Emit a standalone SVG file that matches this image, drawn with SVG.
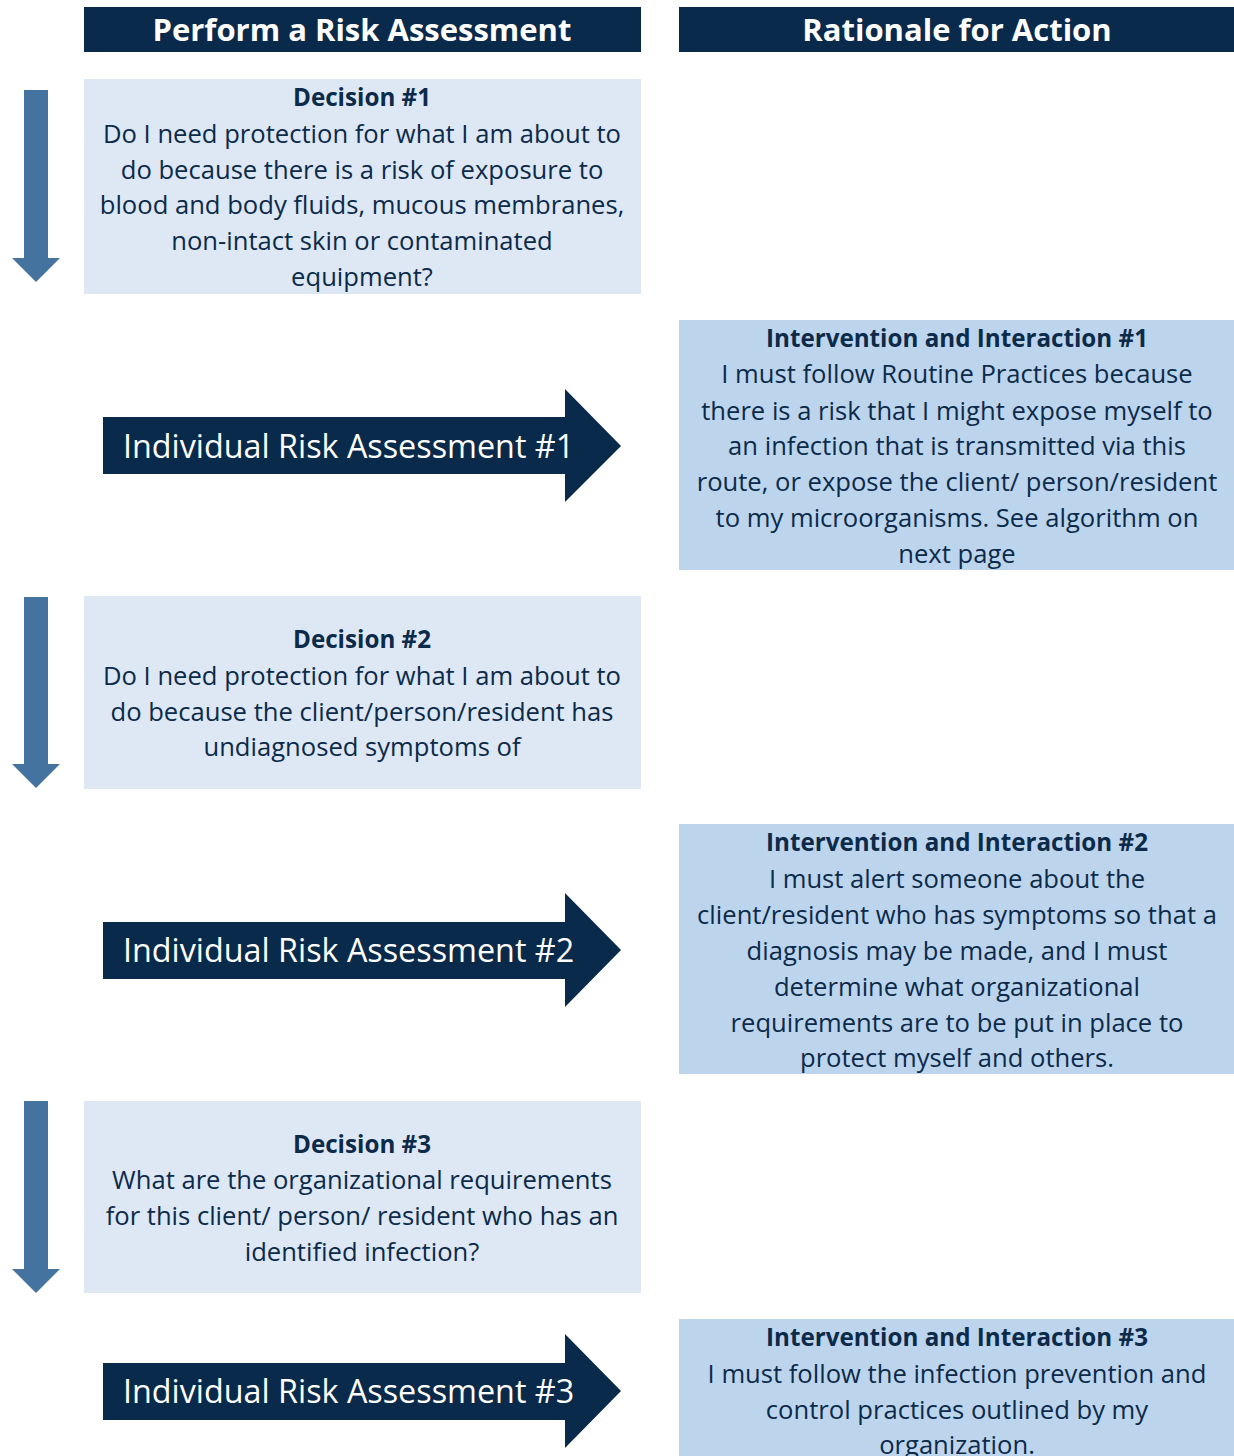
<svg xmlns="http://www.w3.org/2000/svg" width="1234" height="1456" viewBox="0 0 1234 1456">
<style>
.hdr{fill:#0a2a4b}
.hdrt{fill:#ffffff;font-family:"Open Sans","Noto Sans",sans-serif;font-weight:bold;font-size:31px;text-anchor:middle}
.dec{fill:#dde8f4}
.int{fill:#bdd5ec}
.t{fill:#0c2a4a;font-family:"Open Sans","Noto Sans",sans-serif;font-size:25.6px;text-anchor:middle}
.b{font-weight:bold;font-size:24.2px}
.va{fill:#45739f}
.ba{fill:#0a2a4b}
.bat{fill:#ffffff;font-family:"Open Sans","Noto Sans",sans-serif;font-size:32.3px}
</style>
<rect width="1234" height="1456" fill="#ffffff"/>
<g id="header-left"><rect class="hdr" x="84" y="7" width="557" height="45"/><text class="hdrt" x="362" y="41">Perform a Risk Assessment</text></g>
<g id="header-right"><rect class="hdr" x="679" y="7" width="555" height="45"/><text class="hdrt" x="957" y="41">Rationale for Action</text></g>
<g id="connectors">
<path class="va" d="M24 90H48V258H60L36 282L12 258H24Z"/>
<path class="va" d="M24 597H48V764H60L36 788L12 764H24Z"/>
<path class="va" d="M24 1101H48V1269H60L36 1293L12 1269H24Z"/>
</g>
<g id="decision1"><rect class="dec" x="84" y="79" width="557" height="215"/>
<text class="t"><tspan class="b" x="362" y="106">Decision #1</tspan><tspan x="362" y="143">Do I need protection for what I am about to</tspan><tspan x="362" y="179">do because there is a risk of exposure to</tspan><tspan x="362" y="214">blood and body fluids, mucous membranes,</tspan><tspan x="362" y="250">non-intact skin or contaminated</tspan><tspan x="362" y="286">equipment?</tspan></text></g>
<g id="assessment1"><path class="ba" d="M103 417H565V389L621 446L565 502V474H103Z"/><text class="bat" x="123" y="458">Individual Risk Assessment #1</text></g>
<g id="intervention1"><rect class="int" x="679" y="320" width="555" height="250"/>
<text class="t"><tspan class="b" x="957" y="347">Intervention and Interaction #1</tspan><tspan x="957" y="383">I must follow Routine Practices because</tspan><tspan x="957" y="420">there is a risk that I might expose myself to</tspan><tspan x="957" y="455">an infection that is transmitted via this</tspan><tspan x="957" y="491">route, or expose the client/ person/resident</tspan><tspan x="957" y="527">to my microorganisms. See algorithm on</tspan><tspan x="957" y="563">next page</tspan></text></g>
<g id="decision2"><rect class="dec" x="84" y="596" width="557" height="193"/>
<text class="t"><tspan class="b" x="362" y="648">Decision #2</tspan><tspan x="362" y="685">Do I need protection for what I am about to</tspan><tspan x="362" y="721">do because the client/person/resident has</tspan><tspan x="362" y="756">undiagnosed symptoms of</tspan></text></g>
<g id="assessment2"><path class="ba" d="M103 922H565V893L621 950L565 1007V979H103Z"/><text class="bat" x="123" y="962">Individual Risk Assessment #2</text></g>
<g id="intervention2"><rect class="int" x="679" y="824" width="555" height="250"/>
<text class="t"><tspan class="b" x="957" y="851">Intervention and Interaction #2</tspan><tspan x="957" y="888">I must alert someone about the</tspan><tspan x="957" y="924">client/resident who has symptoms so that a</tspan><tspan x="957" y="960">diagnosis may be made, and I must</tspan><tspan x="957" y="996">determine what organizational</tspan><tspan x="957" y="1032">requirements are to be put in place to</tspan><tspan x="957" y="1067">protect myself and others.</tspan></text></g>
<g id="decision3"><rect class="dec" x="84" y="1101" width="557" height="192"/>
<text class="t"><tspan class="b" x="362" y="1153">Decision #3</tspan><tspan x="362" y="1189">What are the organizational requirements</tspan><tspan x="362" y="1225">for this client/ person/ resident who has an</tspan><tspan x="362" y="1261">identified infection?</tspan></text></g>
<g id="assessment3"><path class="ba" d="M103 1363H565V1334L621 1391L565 1448V1420H103Z"/><text class="bat" x="123" y="1403">Individual Risk Assessment #3</text></g>
<g id="intervention3"><rect class="int" x="679" y="1319" width="555" height="137"/>
<text class="t"><tspan class="b" x="957" y="1346">Intervention and Interaction #3</tspan><tspan x="957" y="1383">I must follow the infection prevention and</tspan><tspan x="957" y="1419">control practices outlined by my</tspan><tspan x="957" y="1454">organization.</tspan></text></g>
</svg>
